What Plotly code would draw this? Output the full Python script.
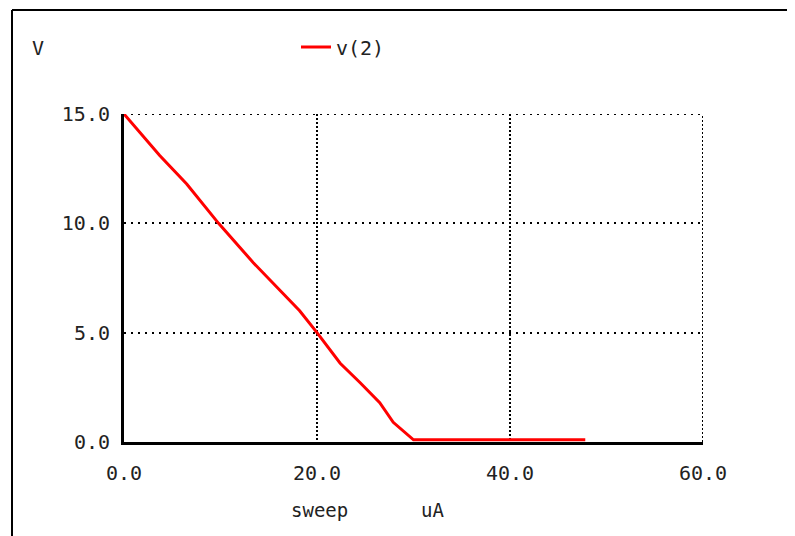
import plotly.graph_objects as go

sweep_ua = [0, 3.7, 6.5, 9.8, 13.4, 16.9, 18.2, 20.0, 22.4, 24.5, 26.5, 27.9, 30.0, 47.8]
v2 = [15.0, 13.1, 11.8, 10.0, 8.2, 6.6, 6.0, 5.0, 3.6, 2.7, 1.8, 0.9, 0.1, 0.1]
x_ticks = [0, 20, 40, 60]
y_ticks = [0, 5, 10, 15]

OFF = 8  # page body margin
W, H = 795 - OFF, 536 - OFF
L, T = 124 - OFF, 114 - OFF
pw, ph = 579, 328
R, B = W - L - pw, H - T - ph

def px(x):
    return (x - OFF - L) / pw

def py(y):
    return (T + ph - (y - OFF)) / ph

FONT = "DejaVu Sans Mono"
TXT = "#222222"

fig = go.Figure()
fig.add_trace(go.Scatter(x=sweep_ua, y=v2, mode="lines", name="v(2)",
                         line=dict(color="#ff0000", width=3)))

axis_common = dict(showgrid=True, gridcolor="black", gridwidth=2,
                   zeroline=False, showline=True, linecolor="black", linewidth=3,
                   ticks="", tickformat=".1f",
                   tickfont=dict(family=FONT, size=20, color=TXT))

fig.update_layout(
    width=W, height=H,
    margin=dict(l=L, r=R, t=T, b=B),
    paper_bgcolor="white", plot_bgcolor="white",
    showlegend=True,
    legend=dict(orientation="h", x=px(296), y=py(47), xanchor="left", yanchor="middle",
                font=dict(family=FONT, size=20, color=TXT),
                bgcolor="rgba(0,0,0,0)"),
    xaxis=dict(range=[0, 60], tickvals=x_ticks, ticklabelstandoff=11,
               griddash="2px,2px", **axis_common),
    yaxis=dict(range=[0, 15], tickvals=y_ticks, ticklabelstandoff=7,
               griddash="2px,5px", **axis_common),
)

# grid lines lying on the plot's top and right edges
fig.add_shape(type="line", xref="paper", yref="y", x0=0, x1=1, y0=15, y1=15,
              line=dict(color="black", width=2, dash="2px,5px"), layer="below")
fig.add_shape(type="line", xref="x", yref="paper", x0=60, x1=60, y0=0, y1=1,
              line=dict(color="black", width=2, dash="2px,2px"), layer="below")

fig.add_annotation(text="V", x=px(30), y=py(48), xref="paper", yref="paper",
                   xanchor="left", yanchor="middle", showarrow=False,
                   font=dict(family=FONT, size=20, color=TXT))
fig.add_annotation(text="sweep", x=px(289), y=py(510), xref="paper", yref="paper",
                   xanchor="left", yanchor="middle", showarrow=False,
                   font=dict(family=FONT, size=19, color=TXT))
fig.add_annotation(text="uA", x=px(419), y=py(510), xref="paper", yref="paper",
                   xanchor="left", yanchor="middle", showarrow=False,
                   font=dict(family=FONT, size=19, color=TXT))

# outer frame (left and top)
fig.add_shape(type="line", xref="paper", yref="paper", x0=px(12), x1=px(12),
              y0=py(10), y1=py(560), line=dict(color="black", width=2))
fig.add_shape(type="line", xref="paper", yref="paper", x0=px(12), x1=px(820),
              y0=py(10), y1=py(10), line=dict(color="black", width=2))

fig.write_html("out.html")
